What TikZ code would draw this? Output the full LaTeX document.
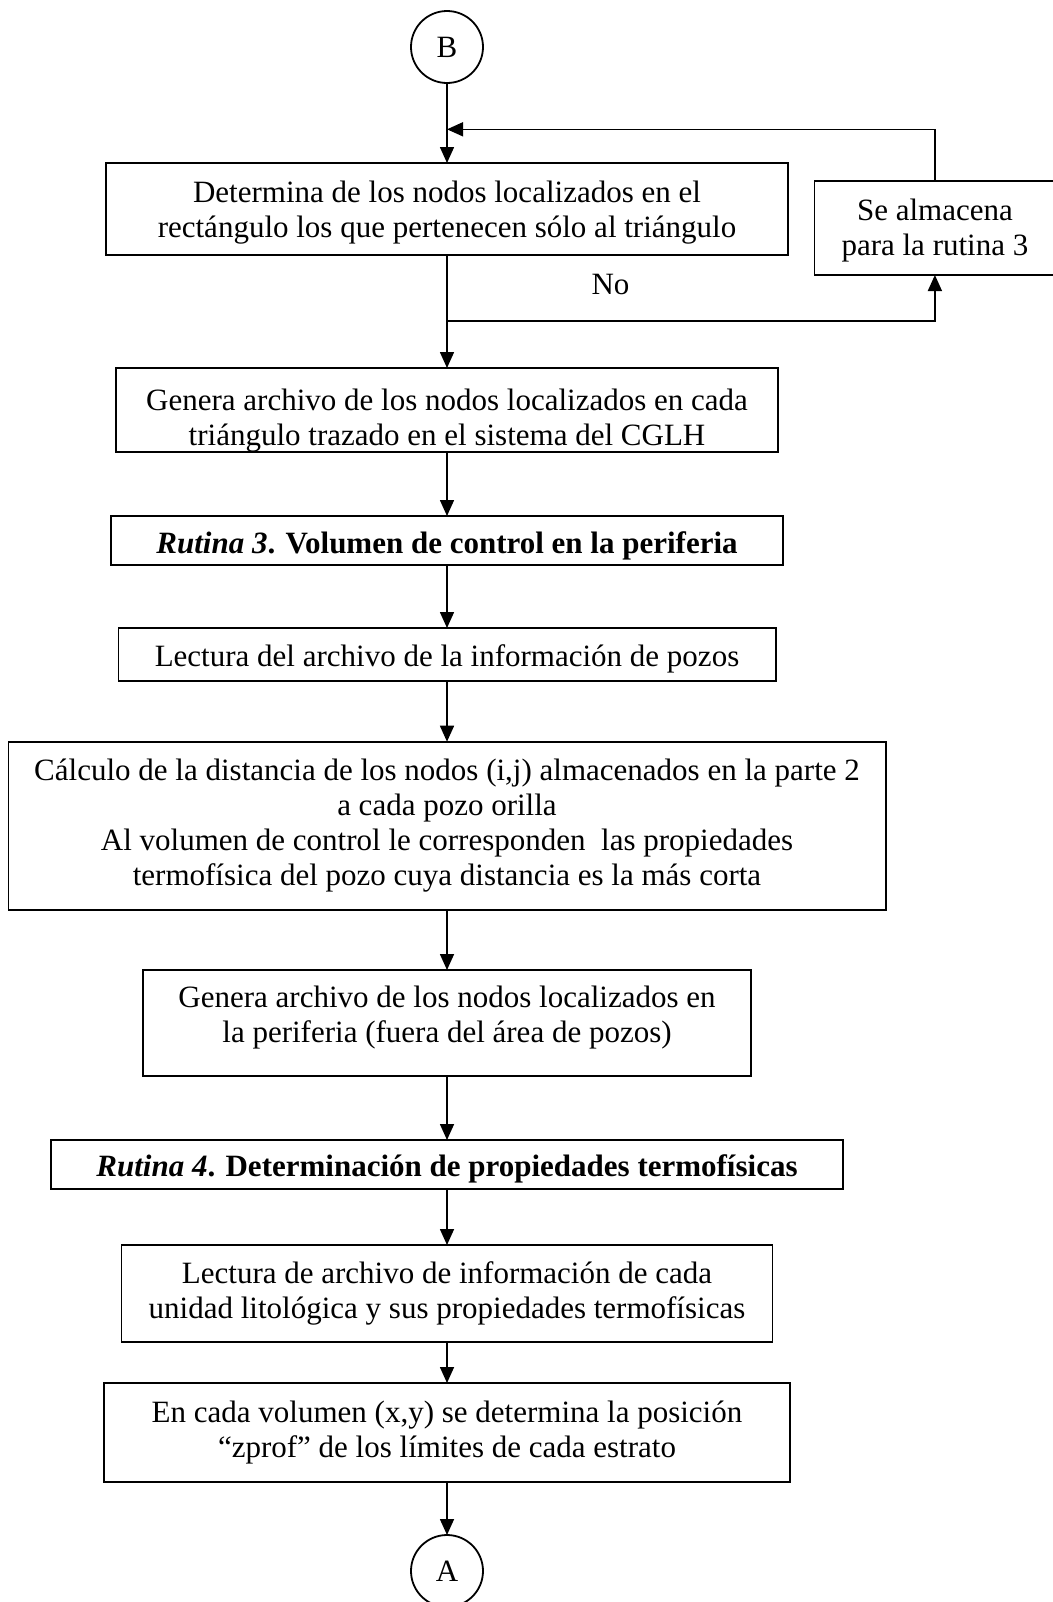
\documentclass[tikz,border=0pt]{standalone}
\usepackage{fontspec}
\setmainfont{Liberation Serif}
\usetikzlibrary{arrows.meta,positioning}
\tikzset{
  stepbox/.style={draw,line width=0.9pt,align=center,inner sep=2pt,outer sep=0pt},
  sidebox/.style={stepbox,minimum width=120.4pt,minimum height=47pt},
  connector/.style={circle,draw,line width=0.9pt,minimum size=36pt,inner sep=0pt,outer sep=0pt},
  arrow/.style={-{Triangle[length=8pt,width=7pt]},line width=0.8pt}
}

\begin{document}
\begin{tikzpicture}[font=\fontsize{15.5}{17.5}\selectfont]
  \useasboundingbox (0,0) rectangle (526.5pt,-801pt);
  \node[connector] (B) at (223.5pt,-23.5pt) {B};
  \node[stepbox,minimum width=341pt,minimum height=46pt,text depth=0pt,below=40pt of B] (det) {Determina de los nodos localizados en el\\rectángulo los que pertenecen sólo al triángulo};
  \node[sidebox,text height=27pt,text depth=0pt,right=13.25pt of det,yshift=-9.5pt] (alm) {Se almacena\\para la rutina 3};
  \coordinate[below=23.15pt of B] (loopin);
  \coordinate[below=32.85pt of det] (nojoin);
  \node[stepbox,minimum width=331pt,minimum height=41.85pt,text height=36pt,text depth=0pt,below=56.5pt of det] (gen1) {Genera archivo de los nodos localizados en cada\\triángulo trazado en el sistema del CGLH};
  \node[stepbox,minimum width=335.7pt,minimum height=24.5pt,text height=12.5pt,text depth=0pt,below=32.15pt of gen1] (rut3) {\textbf{\textit{Rutina 3}. Volumen de control en la periferia}};
  \node[stepbox,minimum width=328.6pt,minimum height=26.35pt,text height=12.4pt,text depth=0pt,below=31.5pt of rut3] (lect1) {Lectura del archivo de la información de pozos};
  \node[stepbox,minimum width=438.6pt,minimum height=84.15pt,below=30.5pt of lect1] (calc) {Cálculo de la distancia de los nodos (i,j) almacenados en la parte 2\\a cada pozo orilla\\Al volumen de control le corresponden\ \ las propiedades\\termofísica del pozo cuya distancia es la más corta};
  \node[stepbox,minimum width=304.1pt,minimum height=53pt,text height=19.6pt,text depth=0pt,below=30pt of calc] (gen2) {Genera archivo de los nodos localizados en\\la periferia (fuera del área de pozos)};
  \node[stepbox,minimum width=395.9pt,minimum height=24.65pt,text height=12pt,text depth=0pt,below=32pt of gen2] (rut4) {\textbf{\textit{Rutina 4}. Determinación de propiedades termofísicas}};
  \node[stepbox,minimum width=325.5pt,minimum height=48.65pt,below=27.85pt of rut4] (lect2) {Lectura de archivo de información de cada\\unidad litológica y sus propiedades termofísicas};
  \node[stepbox,minimum width=342.8pt,minimum height=49.35pt,below=20.35pt of lect2] (pos) {En cada volumen (x,y) se determina la posición\\``zprof'' de los límites de cada estrato};
  \node[connector,below=26.65pt of pos] (A) {A};

  \draw[arrow] (B) -- (det);
  \draw[arrow] (alm) |- (loopin);
  \draw[arrow] (det) -- (gen1);
  \draw[arrow] (nojoin) -- node[pos=0.335,above=9pt] (nolbl) {No} (nojoin -| alm) -- (alm);
  \draw[arrow] (gen1) -- (rut3);
  \draw[arrow] (rut3) -- (lect1);
  \draw[arrow] (lect1) -- (calc);
  \draw[arrow] (calc) -- (gen2);
  \draw[arrow] (gen2) -- (rut4);
  \draw[arrow] (rut4) -- (lect2);
  \draw[arrow] (lect2) -- (pos);
  \draw[arrow] (pos) -- (A);
\end{tikzpicture}
\end{document}
